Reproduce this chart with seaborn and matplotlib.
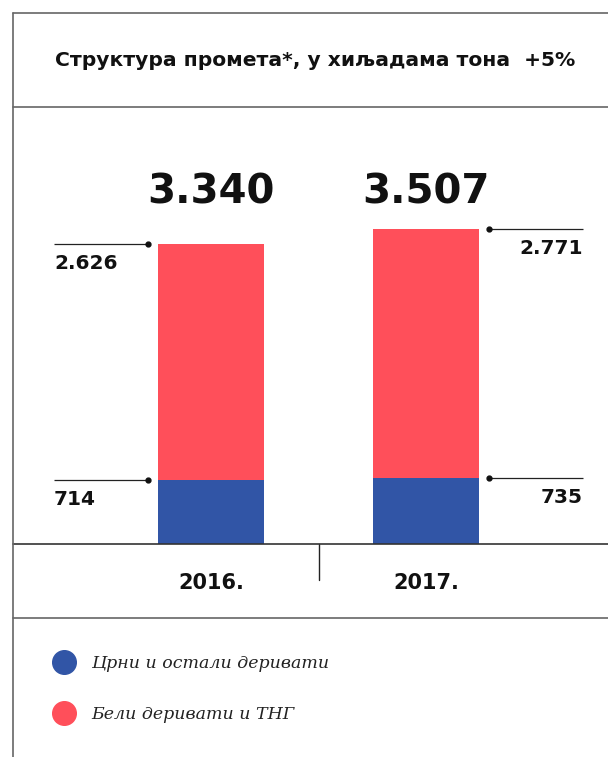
import matplotlib
matplotlib.use("Agg")
import matplotlib.pyplot as plt
from matplotlib.lines import Line2D
import seaborn as sns
import pandas as pd

# data (thousands of tonnes)
years = ["2016.", "2017."]
black = [714, 735]          # Црни и остали деривати
white = [2626, 2771]        # Бели деривати и ТНГ
totals = ["3.340", "3.507"]
black_lbl = ["714", "735"]
white_lbl = ["2.626", "2.771"]
title = "Структура промета*, у хиљадама тона  +5%"
legend_names = ["Црни и остали деривати", "Бели деривати и ТНГ"]

BLUE = "#3155a6"
RED = "#ff4f5a"
FRAME = "#666666"

df = pd.DataFrame({"year": years, "black": black,
                   "total": [b + w for b, w in zip(black, white)]})

sns.set_theme(style="white")
plt.rcParams["font.family"] = ["DejaVu Sans"]

W, H = 608, 757
fig = plt.figure(figsize=(W / 100, H / 100), dpi=100)


def fx(px):
    return px / W


def fy(py):
    return 1 - py / H


# plot area: x 13..608, y 107..544 px
ax = fig.add_axes([fx(13), fy(544), fx(608) - fx(13), fy(107) - fy(544)])
bw = 0.493
sns.barplot(data=df, x="year", y="total", color=RED, width=bw, ax=ax,
            saturation=1, edgecolor="none")
sns.barplot(data=df, x="year", y="black", color=BLUE, width=bw, ax=ax,
            saturation=1, edgecolor="none")
ax.set_xlim(-0.921, 1.8465)
ax.set_ylim(0, 4865)
ax.set_axis_off()

# leader lines with dots + value labels
gap, span = 0.047, 0.437
for i in range(len(years)):
    tot = black[i] + white[i]
    if i == 0:
        x_in = i - bw / 2 - gap
        x_out = x_in - span
        ha, tx = "left", x_out
    else:
        x_in = i + bw / 2 + gap
        x_out = x_in + span
        ha, tx = "right", x_out
    for val, lbl in ((tot, white_lbl[i]), (black[i], black_lbl[i])):
        ax.plot([x_out, x_in], [val, val], color="#222222", lw=0.9,
                clip_on=False, solid_capstyle="butt")
        ax.plot([x_in], [val], "o", color="#111111", ms=3.5, clip_on=False)
        ax.annotate(lbl, (tx, val), xytext=(0, -7), textcoords="offset points",
                    ha=ha, va="top", fontsize=14.5, fontweight="bold",
                    color="#111111")
    # big totals at fixed height
    ax.text(i, 0.780, totals[i], transform=ax.get_xaxis_transform(),
            ha="center", va="baseline", fontsize=29, fontweight="heavy",
            color="#111111")
    ax.text(i, -0.103, years[i], transform=ax.get_xaxis_transform(),
            ha="center", va="baseline", fontsize=15, fontweight="bold",
            color="#111111")

# small divider tick between the years
ax.plot([0.5, 0.5], [0, -0.082], transform=ax.get_xaxis_transform(),
        color="#222222", lw=1, clip_on=False)

# frame lines
for py, c in ((13, FRAME), (107, FRAME), (544, "#333333"), (618, FRAME)):
    fig.add_artist(Line2D([fx(13), 1], [fy(py), fy(py)], color=c, lw=1.2))
fig.add_artist(Line2D([fx(13), fx(13)], [fy(13), 0], color=FRAME, lw=1.2))

fig.text(fx(315), fy(61), title, ha="center", va="center",
         fontsize=14.6, fontweight="bold", color="#111111")

handles = [Line2D([], [], marker="o", ls="none", ms=17, color=c)
           for c in (BLUE, RED)]
fig.legend(handles, legend_names, loc="upper left",
           bbox_to_anchor=(fx(47), fy(655)), frameon=False,
           prop={"family": "DejaVu Serif", "style": "italic", "size": 12.5},
           labelcolor="#222222",
           handletextpad=0.55, labelspacing=1.95, borderpad=0, borderaxespad=0)

fig.savefig("out.png", dpi=100, facecolor="white")
